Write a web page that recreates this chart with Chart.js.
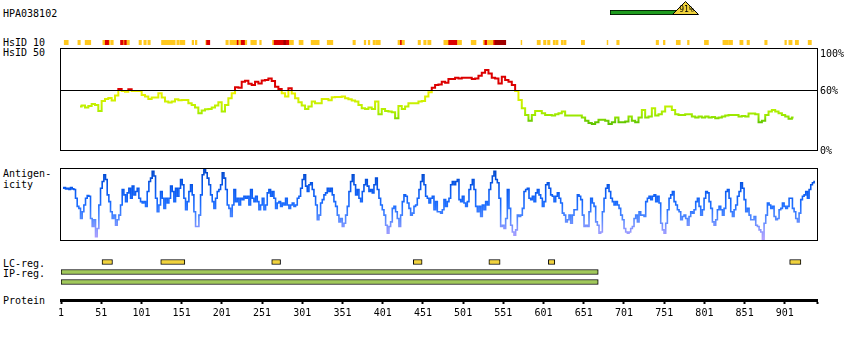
<!DOCTYPE html>
<html>
<head>
<meta charset="utf-8">
<title>HPA038102</title>
<script src="https://cdn.jsdelivr.net/npm/chart.js@4.4.1/dist/chart.umd.min.js"></script>
<style>
  html, body { margin: 0; padding: 0; background: #fff; }
  #page { position: relative; width: 850px; height: 340px; overflow: hidden; background: #fff; }
  #page canvas { position: absolute; }
  .lbl { position: absolute; left: 3px; font: 10px 'DejaVu Sans Mono', monospace; line-height: 10px; color: #000; white-space: pre; }
</style>
</head>
<body>
<div id="page">
  <div class="lbl" style="top:8.8px">HPA038102</div>
  <div class="lbl" style="top:38.1px">HsID 10</div>
  <div class="lbl" style="top:48.1px">HsID 50</div>
  <div class="lbl" style="top:168.8px">Antigen-</div>
  <div class="lbl" style="top:179.5px">icity</div>
  <div class="lbl" style="top:258.8px">LC-reg.</div>
  <div class="lbl" style="top:268.8px">IP-reg.</div>
  <div class="lbl" style="top:295.5px">Protein</div>

  <canvas id="cHeader" width="120" height="20" style="left:600px;top:0px"></canvas>
  <canvas id="cHsid10" width="850" height="12" style="left:0px;top:36px"></canvas>
  <canvas id="cHsid50" width="850" height="120" style="left:0px;top:40px"></canvas>
  <canvas id="cAntigen" width="850" height="90" style="left:0px;top:160px"></canvas>
  <canvas id="cProtein" width="850" height="90" style="left:0px;top:250px"></canvas>
</div>

<script>
// ---- data ---------------------------------------------------------------
const PROTEIN_LENGTH = 941;
const identityScore = 91;               // percent identity shown in the header marker

// HsID 10 hits along the sequence: [start residue, end residue, level]
// level 1 = partial, 2 = high, 3 = very high
const hsid10Segments = [
  [5,10,1],[22,25,1],[31,38,1],[53,56,1],[56,61,2],[61,62,1],[63,66,1],[75,79,2],[79,80,1],[80,83,2],
  [83,86,1],[98,101,1],[104,107,1],[109,112,1],[126,143,1],[145,148,1],[149,155,1],[164,166,1],[168,170,1],
  [181,182,1],[182,186,2],[206,209,1],[211,220,1],[220,222,2],[222,225,1],[225,230,2],[230,232,1],[237,244,1],
  [248,250,1],[264,266,1],[266,278,2],[278,281,3],[281,285,2],[285,290,1],[297,302,1],[312,322,1],[332,339,1],
  [364,367,1],[378,380,1],[383,385,1],[389,392,1],[393,398,1],[420,423,1],[423,425,2],[425,428,1],[445,448,1],
  [452,455,1],[457,461,1],[477,483,1],[483,494,2],[494,499,1],[511,517,1],[526,528,1],[528,531,2],[531,539,1],
  [539,541,2],[541,554,3],[573,574,1],[593,597,1],[601,604,1],[606,609,1],[613,615,1],[616,619,1],[623,625,1],
  [626,629,1],[648,652,1],[680,681,1],[692,695,1],[741,744,1],[750,752,1],[766,771,1],[780,782,1],[801,806,1],
  [824,831,1],[832,836,1],[845,849,1],[854,857,1],[876,879,1],[901,903,1],[906,910,1],[914,918,1],[930,934,1]
];

// HsID 50 identity (%), sampled every hsid50Step residues from hsid50Start
const hsid50Start = 24.6;
const hsid50Step = 4.146;
const hsid50 = [
  43.4,44.4,42.4,44.1,46.1,45.1,39.1,49.1,51.1,52.0, 49.4,54.4,61.0,59.0,58.3,60.7,59.0,59.0,59.0,55.0,
  53.4,51.1,52.4,52.4,56.7,52.4,48.4,47.4,48.4,50.7, 49.7,50.1,50.1,46.7,45.1,42.4,36.8,39.4,40.8,41.1,
  42.4,44.4,47.7,38.5,45.1,51.7,56.7,62.7,62.3,68.3, 69.3,66.3,65.0,68.3,66.6,69.6,69.9,71.6,69.0,63.3,
  61.0,56.7,53.4,61.7,56.4,51.7,47.7,44.4,41.1,43.4, 48.4,46.7,46.7,51.1,51.1,49.7,52.7,53.0,53.0,53.4,
  51.7,50.7,49.4,48.4,45.1,41.8,41.1,42.4,41.1,48.4, 35.8,41.1,39.1,38.5,37.8,31.8,44.1,41.1,43.4,46.7,
  46.7,46.7,
  48.4,49.1,53.4,57.7,62.3,65.0,65.6,68.3,67.3,70.9, 70.9,72.3,71.6,72.3,72.3,72.3,70.9,71.6,74.3,77.2,
  79.9,76.6,72.3,71.6,66.6,73.3,69.9,68.3,65.0,59.0, 50.1,41.8,35.1,29.2,35.1,39.1,39.1,36.8,35.1,35.1,
  34.5,35.8,36.8,38.5,34.5,34.5,34.5,34.5,34.5,32.5, 29.2,26.9,25.9,27.8,30.2,30.2,29.2,25.9,27.8,32.5,
  27.8,27.8,28.5,33.5,29.2,27.8,32.5,40.1,32.5,33.5, 41.8,34.5,35.8,38.5,43.4,43.4,40.1,35.8,35.1,35.1,
  35.8,35.8,33.5,32.5,33.5,32.5,33.5,32.5,33.1,31.8, 32.5,33.5,34.5,35.1,35.1,35.1,33.5,34.1,33.5,36.5,
  36.5,35.8,27.8,29.2,35.1,38.5,40.1,38.5,36.8,35.1, 33.5,31.2,32.5
];
const hsidThreshold = 60;
const hsidTickValues = [100, 60, 0];

// Antigenicity score, sampled every antigenStep residues from antigenStart
const antigenStart = 3.5;
const antigenStep = 2.073;
const antigenicity = [
  77,78,76,77,75,78,76,75,62,50, 47,32,42,52,62,66,65,32,20,30, 5,17,52,77,87,97,90,67,57,42,
  32,37,22,30,37,52,75,67,57,70, 77,62,80,67,72,77,62,57,55,57, 50,72,87,92,102,95,62,42,52,72,
  62,47,62,55,62,80,72,57,77,65, 77,90,82,62,45,57,72,82,67,42, 20,20,37,67,97,105,100,92,82,67,
  57,47,62,72,75,82,100,92,75,52, 47,35,52,75,57,62,52,62,60,65, 62,65,
  52,75,62,57,65,57,45,52,62,45, 52,70,75,65,72,62,47,55,57,50, 55,52,62,52,47,52,55,50,52,62,
  65,77,90,97,80,72,82,85,75,65, 52,30,37,55,60,67,70,77,72,77, 67,57,50,37,27,32,20,25,37,50,
  72,87,97,82,67,75,62,57,72,82, 90,80,72,75,70,82,92,75,62,52, 45,37,22,10,20,27,47,50,42,32,
  20,37,57,67,65,55,47,37,40,50, 52,62,75,87,97,82,65,62,55,62, 65,45,57,42,
  42,40,45,60,50,57,62,82,87,82, 87,90,60,57,65,55,50,57,75,82, 90,75,50,42,50,35,52,45,57,52,
  75,85,95,102,90,85,62,20,22,17, 32,75,47,22,12,7,15,37,35,37, 47,72,75,77,62,60,65,57,70,75,
  67,62,50,57,82,85,77,67,65,57, 65,70,62,55,40,37,27,30,37,25, 37,45,45,67,65,60,37,20,22,20,
  42,62,55,50,27,22,10,12,42,62, 77,82,72,62,57,52,57,52,47,37, 30,17,12,10,
  12,17,20,32,37,27,42,37,37,35, 57,62,65,60,65,67,57,65,55,25, 15,10,25,45,62,67,72,57,52,45,
  42,30,35,37,32,22,35,42,40,45, 57,62,50,37,45,62,72,70,57,47, 27,22,30,45,50,45,37,47,72,75,
  62,42,35,45,52,65,72,85,77,60, 42,47,37,30,30,35,22,20,15,12, 0,25,37,55,52,47,50,35,30,32,
  45,47,55,50,47,50,62,62,47,42, 32,27,40,60,65,67,72,62,75,82, 85,87
];
const antigenMax = 107;

// Annotated regions: [start residue, end residue]
const lcRegions = [[52,65],[125,155],[263,274],[439,450],[533,547],[607,615],[907,921]];
const ipRegions = [[1,669],[1,669]];

// Sequence ruler labels
const proteinTicks = [1,51,101,151,201,251,301,351,401,451,501,551,601,651,701,751,801,851,901];

// ---- shared settings ------------------------------------------------------
Chart.defaults.font.family = "'DejaVu Sans Mono', monospace";
Chart.defaults.font.size = 10;
Chart.defaults.color = '#000';
Chart.defaults.animation = false;
Chart.defaults.events = [];
Chart.defaults.responsive = false;
Chart.defaults.plugins.legend.display = false;
Chart.defaults.plugins.tooltip.enabled = false;

const SIDE_PAD = { left: 61, right: 33 };
const residueAxis = { type: 'linear', min: 1, max: PROTEIN_LENGTH, display: false, offset: false };

const LEVEL_COLORS = { 1: '#ffc81e', 2: '#dc0000', 3: '#a00000' };

function sampled(values, start, step) {
  return values.map((v, i) => ({ x: start + i * step, y: v }));
}

function verticalGradient(chart, stops) {
  const a = chart.chartArea;
  if (!a) return stops[0][1];
  const g = chart.ctx.createLinearGradient(0, a.top, 0, a.bottom);
  stops.forEach(([o, c]) => g.addColorStop(o, c));
  return g;
}

// box around the plotting area
const framePlugin = {
  id: 'frame',
  afterDatasetsDraw(chart, args, opts) {
    if (!opts || !opts.show) return;
    const a = chart.chartArea, ctx = chart.ctx;
    const top = a.top - (opts.extendTop || 0);
    ctx.save();
    ctx.strokeStyle = '#000';
    ctx.lineWidth = 1;
    ctx.strokeRect(a.left - 0.5, top + 0.5, a.right - a.left + 1, a.bottom - top);
    ctx.restore();
  }
};

// horizontal reference line and right-hand percent labels
const thresholdPlugin = {
  id: 'threshold',
  afterDatasetsDraw(chart, args, opts) {
    if (!opts || opts.value === undefined) return;
    const a = chart.chartArea, ctx = chart.ctx, y = chart.scales.y;
    const py = Math.round(y.getPixelForValue(opts.value)) + 0.5;
    ctx.save();
    ctx.strokeStyle = '#000';
    ctx.lineWidth = 1;
    ctx.beginPath();
    ctx.moveTo(a.left - 1, py);
    ctx.lineTo(a.right + 1, py);
    ctx.stroke();
    ctx.fillStyle = '#000';
    ctx.font = "10px 'DejaVu Sans Mono', monospace";
    ctx.textAlign = 'left';
    opts.ticks.forEach(v => {
      const p = y.getPixelForValue(v);
      if (v === y.max) { ctx.textBaseline = 'top'; ctx.fillText(v + '%', a.right + 3, p - 1); }
      else { ctx.textBaseline = 'middle'; ctx.fillText(v + '%', a.right + 3, p + 1); }
    });
    ctx.restore();
  }
};

// triangular marker with its percentage
const markerPlugin = {
  id: 'marker',
  afterDatasetsDraw(chart, args, opts) {
    if (!opts || opts.value === undefined) return;
    const ctx = chart.ctx;
    const px = Math.round(chart.scales.x.getPixelForValue(opts.value)) + 0.5;
    const baseY = chart.chartArea.bottom - 0.5;
    ctx.save();
    ctx.beginPath();
    ctx.moveTo(px, 1.5);
    ctx.lineTo(px + 13, baseY);
    ctx.lineTo(px - 13, baseY);
    ctx.closePath();
    ctx.fillStyle = '#f0d23c';
    ctx.fill();
    ctx.strokeStyle = '#000';
    ctx.lineWidth = 1;
    ctx.stroke();
    ctx.fillStyle = '#000';
    ctx.font = "8px 'DejaVu Sans Mono', monospace";
    ctx.textAlign = 'center';
    ctx.textBaseline = 'middle';
    ctx.fillText(opts.value + '%', px + 1, 10);
    ctx.restore();
  }
};

Chart.register(framePlugin, thresholdPlugin, markerPlugin);

// ---- header: identity bar -------------------------------------------------
new Chart(document.getElementById('cHeader'), {
  type: 'bar',
  data: {
    labels: ['identity'],
    datasets: [{
      data: [{ x: [0, identityScore], y: 'identity' }],
      backgroundColor: '#1e9b1e',
      borderColor: '#000',
      borderWidth: 1,
      borderSkipped: false,
      barPercentage: 1,
      categoryPercentage: 1
    }]
  },
  options: {
    indexAxis: 'y',
    devicePixelRatio: 1,
    layout: { padding: { left: 10, right: 27.6, top: 10, bottom: 5 } },
    scales: {
      x: { type: 'linear', min: 0, max: 100, display: false },
      y: { type: 'category', display: false }
    },
    plugins: { marker: { value: identityScore } }
  }
});

// ---- HsID 10 strip --------------------------------------------------------
new Chart(document.getElementById('cHsid10'), {
  type: 'bar',
  data: {
    labels: ['HsID 10'],
    datasets: [{
      data: hsid10Segments.map(([s, e, level]) => ({ x: [s, e], y: 'HsID 10', level })),
      backgroundColor: ctx => LEVEL_COLORS[ctx.raw ? ctx.raw.level : 1],
      borderWidth: 0,
      borderSkipped: false,
      barPercentage: 1,
      categoryPercentage: 1
    }]
  },
  options: {
    indexAxis: 'y',
    devicePixelRatio: 1,
    layout: { padding: { left: SIDE_PAD.left, right: SIDE_PAD.right, top: 4, bottom: 3 } },
    scales: { x: residueAxis, y: { type: 'category', display: false } }
  }
});

// ---- HsID 50 identity profile ----------------------------------------------
const hsidStops = [
  [0, '#dc0000'], [0.399, '#dc0000'], [0.4, '#f2f200'], [0.5, '#d2f000'],
  [0.6, '#b4f000'], [0.665, '#96e600'], [0.72, '#64c800'], [1, '#3c9600']
];
new Chart(document.getElementById('cHsid50'), {
  type: 'line',
  data: {
    datasets: [{
      data: sampled(hsid50, hsid50Start, hsid50Step),
      borderColor: ctx => verticalGradient(ctx.chart, hsidStops),
      borderWidth: 2,
      pointRadius: 0,
      stepped: 'middle',
      fill: false
    }]
  },
  options: {
    devicePixelRatio: 1,
    layout: { padding: { left: SIDE_PAD.left, right: SIDE_PAD.right, top: 10, bottom: 10 } },
    scales: {
      x: residueAxis,
      y: { type: 'linear', min: 0, max: 100, display: false }
    },
    plugins: {
      frame: { show: true, extendTop: 2 },
      threshold: { value: hsidThreshold, ticks: hsidTickValues }
    }
  }
});

// ---- antigenicity profile ---------------------------------------------------
const antigenStops = [
  [0, '#0046c8'], [0.3, '#0a5af0'], [0.52, '#1e6eff'],
  [0.7, '#5088ff'], [0.85, '#8a96ff'], [1, '#b4a0ff']
];
new Chart(document.getElementById('cAntigen'), {
  type: 'line',
  data: {
    datasets: [{
      data: sampled(antigenicity, antigenStart, antigenStep),
      borderColor: ctx => verticalGradient(ctx.chart, antigenStops),
      borderWidth: 1.6,
      pointRadius: 0,
      stepped: 'middle',
      fill: false
    }]
  },
  options: {
    devicePixelRatio: 1,
    layout: { padding: { left: SIDE_PAD.left, right: SIDE_PAD.right, top: 8, bottom: 10 } },
    scales: {
      x: residueAxis,
      y: { type: 'linear', min: 0, max: antigenMax, display: false }
    },
    plugins: { frame: { show: true, extendTop: 0 } }
  }
});

// ---- regions and sequence ruler -------------------------------------------
new Chart(document.getElementById('cProtein'), {
  type: 'bar',
  data: {
    datasets: [
      {
        data: lcRegions.map(([s, e]) => ({ x: [s, e], y: 0 })),
        backgroundColor: '#f0d23c',
        borderColor: '#000',
        borderWidth: 1,
        borderSkipped: false,
        barThickness: 5,
        grouped: false
      },
      {
        data: ipRegions.map(([s, e], i) => ({ x: [s, e], y: 1 + i })),
        backgroundColor: '#a0c85a',
        borderColor: '#000',
        borderWidth: 1,
        borderSkipped: false,
        barThickness: 5,
        grouped: false
      }
    ]
  },
  options: {
    indexAxis: 'y',
    devicePixelRatio: 1,
    layout: { padding: { left: SIDE_PAD.left, right: SIDE_PAD.right, top: 0, bottom: 0 } },
    scales: {
      x: {
        type: 'linear',
        position: 'bottom',
        min: 1,
        max: PROTEIN_LENGTH,
        offset: false,
        afterBuildTicks: s => { s.ticks = [...proteinTicks, PROTEIN_LENGTH].map(v => ({ value: v })); },
        afterFit: s => { s.height = 40; },
        ticks: {
          autoSkip: false,
          maxRotation: 0,
          minRotation: 0,
          padding: 3,
          color: '#000',
          font: { size: 10 },
          callback: v => proteinTicks.includes(v) ? String(v) : ''
        },
        grid: {
          offset: false,
          drawOnChartArea: false,
          drawTicks: true,
          tickLength: 4,
          tickWidth: 2,
          tickColor: '#000',
          color: '#000'
        },
        border: { display: true, color: '#000', width: 3 }
      },
      y: {
        type: 'linear', min: -1.2, max: 3.8, reverse: true, display: false,
        offset: false, grid: { offset: false }
      }
    }
  }
});
</script>
</body>
</html>
